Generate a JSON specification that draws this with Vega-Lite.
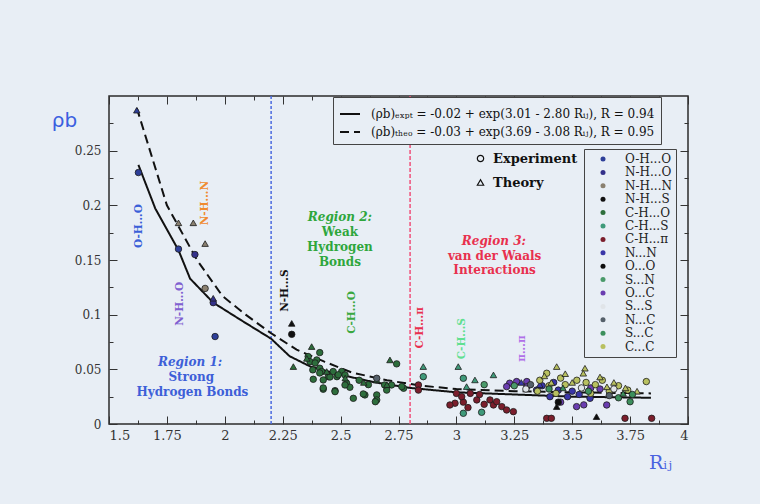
{
"$schema":"https://vega.github.io/schema/vega-lite/v6.json",
"width":579,"height":328,
"autosize":{"type":"none"},
"padding":{"left":109,"top":96,"right":72,"bottom":80},
"background":"#e8eef5",
"config":{"font":"DejaVu Serif","view":{"stroke":"#2b2b2b","strokeWidth":1.5},
 "axis":{"domain":false,"grid":false,"labelFont":"DejaVu Serif","labelColor":"#333","tickColor":"#333","labelFontSize":13,"tickWidth":1}},
"datasets":{
 "fits":[
  {"R":1.627,"rho":0.237,"fit":"(ρb)ₑₓₚₜ = -0.02 + exp(3.01 - 2.80 Rᵢⱼ), R = 0.94"},
  {"R":1.70,"rho":0.197,"fit":"(ρb)ₑₓₚₜ = -0.02 + exp(3.01 - 2.80 Rᵢⱼ), R = 0.94"},
  {"R":1.80,"rho":0.159,"fit":"(ρb)ₑₓₚₜ = -0.02 + exp(3.01 - 2.80 Rᵢⱼ), R = 0.94"},
  {"R":1.85,"rho":0.133,"fit":"(ρb)ₑₓₚₜ = -0.02 + exp(3.01 - 2.80 Rᵢⱼ), R = 0.94"},
  {"R":1.95,"rho":0.111,"fit":"(ρb)ₑₓₚₜ = -0.02 + exp(3.01 - 2.80 Rᵢⱼ), R = 0.94"},
  {"R":2.07,"rho":0.095,"fit":"(ρb)ₑₓₚₜ = -0.02 + exp(3.01 - 2.80 Rᵢⱼ), R = 0.94"},
  {"R":2.20,"rho":0.078,"fit":"(ρb)ₑₓₚₜ = -0.02 + exp(3.01 - 2.80 Rᵢⱼ), R = 0.94"},
  {"R":2.28,"rho":0.062,"fit":"(ρb)ₑₓₚₜ = -0.02 + exp(3.01 - 2.80 Rᵢⱼ), R = 0.94"},
  {"R":2.37,"rho":0.0525,"fit":"(ρb)ₑₓₚₜ = -0.02 + exp(3.01 - 2.80 Rᵢⱼ), R = 0.94"},
  {"R":2.50,"rho":0.045,"fit":"(ρb)ₑₓₚₜ = -0.02 + exp(3.01 - 2.80 Rᵢⱼ), R = 0.94"},
  {"R":2.65,"rho":0.038,"fit":"(ρb)ₑₓₚₜ = -0.02 + exp(3.01 - 2.80 Rᵢⱼ), R = 0.94"},
  {"R":2.80,"rho":0.033,"fit":"(ρb)ₑₓₚₜ = -0.02 + exp(3.01 - 2.80 Rᵢⱼ), R = 0.94"},
  {"R":3.00,"rho":0.029,"fit":"(ρb)ₑₓₚₜ = -0.02 + exp(3.01 - 2.80 Rᵢⱼ), R = 0.94"},
  {"R":3.25,"rho":0.027,"fit":"(ρb)ₑₓₚₜ = -0.02 + exp(3.01 - 2.80 Rᵢⱼ), R = 0.94"},
  {"R":3.50,"rho":0.025,"fit":"(ρb)ₑₓₚₜ = -0.02 + exp(3.01 - 2.80 Rᵢⱼ), R = 0.94"},
  {"R":3.84,"rho":0.024,"fit":"(ρb)ₑₓₚₜ = -0.02 + exp(3.01 - 2.80 Rᵢⱼ), R = 0.94"},
  {"R":1.62,"rho":0.289,"fit":"(ρb)ₜₕₑₒ = -0.03 + exp(3.69 - 3.08 Rᵢⱼ), R = 0.95"},
  {"R":1.75,"rho":0.200,"fit":"(ρb)ₜₕₑₒ = -0.03 + exp(3.69 - 3.08 Rᵢⱼ), R = 0.95"},
  {"R":1.88,"rho":0.150,"fit":"(ρb)ₜₕₑₒ = -0.03 + exp(3.69 - 3.08 Rᵢⱼ), R = 0.95"},
  {"R":1.99,"rho":0.117,"fit":"(ρb)ₜₕₑₒ = -0.03 + exp(3.69 - 3.08 Rᵢⱼ), R = 0.95"},
  {"R":2.09,"rho":0.100,"fit":"(ρb)ₜₕₑₒ = -0.03 + exp(3.69 - 3.08 Rᵢⱼ), R = 0.95"},
  {"R":2.20,"rho":0.083,"fit":"(ρb)ₜₕₑₒ = -0.03 + exp(3.69 - 3.08 Rᵢⱼ), R = 0.95"},
  {"R":2.31,"rho":0.068,"fit":"(ρb)ₜₕₑₒ = -0.03 + exp(3.69 - 3.08 Rᵢⱼ), R = 0.95"},
  {"R":2.43,"rho":0.057,"fit":"(ρb)ₜₕₑₒ = -0.03 + exp(3.69 - 3.08 Rᵢⱼ), R = 0.95"},
  {"R":2.55,"rho":0.047,"fit":"(ρb)ₜₕₑₒ = -0.03 + exp(3.69 - 3.08 Rᵢⱼ), R = 0.95"},
  {"R":2.70,"rho":0.040,"fit":"(ρb)ₜₕₑₒ = -0.03 + exp(3.69 - 3.08 Rᵢⱼ), R = 0.95"},
  {"R":2.85,"rho":0.035,"fit":"(ρb)ₜₕₑₒ = -0.03 + exp(3.69 - 3.08 Rᵢⱼ), R = 0.95"},
  {"R":3.00,"rho":0.032,"fit":"(ρb)ₜₕₑₒ = -0.03 + exp(3.69 - 3.08 Rᵢⱼ), R = 0.95"},
  {"R":3.25,"rho":0.030,"fit":"(ρb)ₜₕₑₒ = -0.03 + exp(3.69 - 3.08 Rᵢⱼ), R = 0.95"},
  {"R":3.50,"rho":0.029,"fit":"(ρb)ₜₕₑₒ = -0.03 + exp(3.69 - 3.08 Rᵢⱼ), R = 0.95"},
  {"R":3.84,"rho":0.028,"fit":"(ρb)ₜₕₑₒ = -0.03 + exp(3.69 - 3.08 Rᵢⱼ), R = 0.95"}
 ],
 "pts":[
  {"R":1.627,"rho":0.230,"type":"O-H...O","kind":"Experiment"},
  {"R":1.80,"rho":0.160,"type":"O-H...O","kind":"Experiment"},
  {"R":1.958,"rho":0.080,"type":"O-H...O","kind":"Experiment"},
  {"R":1.62,"rho":0.287,"type":"O-H...O","kind":"Theory"},
  {"R":1.871,"rho":0.155,"type":"N-H...O","kind":"Experiment"},
  {"R":1.95,"rho":0.111,"type":"N-H...O","kind":"Experiment"},
  {"R":1.95,"rho":0.115,"type":"N-H...O","kind":"Theory"},
  {"R":1.915,"rho":0.124,"type":"N-H...N","kind":"Experiment"},
  {"R":1.80,"rho":0.184,"type":"N-H...N","kind":"Theory"},
  {"R":1.864,"rho":0.184,"type":"N-H...N","kind":"Theory"},
  {"R":1.915,"rho":0.165,"type":"N-H...N","kind":"Theory"},
  {"R":2.289,"rho":0.082,"type":"N-H...S","kind":"Experiment"},
  {"R":2.289,"rho":0.092,"type":"N-H...S","kind":"Theory"},
  {"R":2.36,"rho":0.0617,"type":"C-H...O","kind":"Experiment"},
  {"R":2.41,"rho":0.0653,"type":"C-H...O","kind":"Experiment"},
  {"R":2.397,"rho":0.0586,"type":"C-H...O","kind":"Experiment"},
  {"R":2.368,"rho":0.057,"type":"C-H...O","kind":"Experiment"},
  {"R":2.39,"rho":0.0558,"type":"C-H...O","kind":"Experiment"},
  {"R":2.41,"rho":0.051,"type":"C-H...O","kind":"Experiment"},
  {"R":2.418,"rho":0.048,"type":"C-H...O","kind":"Experiment"},
  {"R":2.468,"rho":0.048,"type":"C-H...O","kind":"Experiment"},
  {"R":2.505,"rho":0.048,"type":"C-H...O","kind":"Experiment"},
  {"R":2.447,"rho":0.0433,"type":"C-H...O","kind":"Experiment"},
  {"R":2.484,"rho":0.0433,"type":"C-H...O","kind":"Experiment"},
  {"R":2.519,"rho":0.0449,"type":"C-H...O","kind":"Experiment"},
  {"R":2.382,"rho":0.0409,"type":"C-H...O","kind":"Experiment"},
  {"R":2.425,"rho":0.0403,"type":"C-H...O","kind":"Experiment"},
  {"R":2.526,"rho":0.0373,"type":"C-H...O","kind":"Experiment"},
  {"R":2.54,"rho":0.0336,"type":"C-H...O","kind":"Experiment"},
  {"R":2.425,"rho":0.0318,"type":"C-H...O","kind":"Experiment"},
  {"R":2.476,"rho":0.0305,"type":"C-H...O","kind":"Experiment"},
  {"R":2.555,"rho":0.0235,"type":"C-H...O","kind":"Experiment"},
  {"R":2.605,"rho":0.0266,"type":"C-H...O","kind":"Experiment"},
  {"R":2.656,"rho":0.0266,"type":"C-H...O","kind":"Experiment"},
  {"R":2.656,"rho":0.022,"type":"C-H...O","kind":"Experiment"},
  {"R":2.699,"rho":0.031,"type":"C-H...O","kind":"Experiment"},
  {"R":2.742,"rho":0.055,"type":"C-H...O","kind":"Experiment"},
  {"R":2.772,"rho":0.0327,"type":"C-H...O","kind":"Experiment"},
  {"R":2.69,"rho":0.0357,"type":"C-H...O","kind":"Experiment"},
  {"R":2.65,"rho":0.0204,"type":"C-H...O","kind":"Experiment"},
  {"R":2.598,"rho":0.0275,"type":"C-H...O","kind":"Experiment"},
  {"R":2.519,"rho":0.0357,"type":"C-H...O","kind":"Experiment"},
  {"R":2.72,"rho":0.0357,"type":"C-H...O","kind":"Experiment"},
  {"R":2.764,"rho":0.0342,"type":"C-H...O","kind":"Experiment"},
  {"R":2.38,"rho":0.0495,"type":"C-H...O","kind":"Experiment"},
  {"R":2.41,"rho":0.0467,"type":"C-H...O","kind":"Experiment"},
  {"R":2.425,"rho":0.033,"type":"C-H...O","kind":"Experiment"},
  {"R":2.476,"rho":0.0296,"type":"C-H...O","kind":"Experiment"},
  {"R":2.454,"rho":0.043,"type":"C-H...O","kind":"Experiment"},
  {"R":2.49,"rho":0.045,"type":"C-H...O","kind":"Experiment"},
  {"R":2.58,"rho":0.040,"type":"C-H...O","kind":"Experiment"},
  {"R":2.62,"rho":0.036,"type":"C-H...O","kind":"Experiment"},
  {"R":2.296,"rho":0.0525,"type":"C-H...O","kind":"Theory"},
  {"R":2.375,"rho":0.0708,"type":"C-H...O","kind":"Theory"},
  {"R":2.354,"rho":0.060,"type":"C-H...O","kind":"Theory"},
  {"R":2.656,"rho":0.0403,"type":"C-H...O","kind":"Theory"},
  {"R":2.713,"rho":0.0586,"type":"C-H...O","kind":"Theory"},
  {"R":2.44,"rho":0.048,"type":"C-H...O","kind":"Theory"},
  {"R":2.52,"rho":0.042,"type":"C-H...O","kind":"Theory"},
  {"R":2.60,"rho":0.038,"type":"C-H...O","kind":"Theory"},
  {"R":2.70,"rho":0.036,"type":"C-H...O","kind":"Theory"},
  {"R":2.656,"rho":0.0418,"type":"N...C","kind":"Experiment"},
  {"R":2.836,"rho":0.0357,"type":"C-H...π","kind":"Experiment"},
  {"R":2.836,"rho":0.031,"type":"C-H...π","kind":"Experiment"},
  {"R":2.994,"rho":0.019,"type":"C-H...π","kind":"Experiment"},
  {"R":3.03,"rho":0.020,"type":"C-H...π","kind":"Experiment"},
  {"R":3.0,"rho":0.028,"type":"C-H...π","kind":"Experiment"},
  {"R":3.06,"rho":0.028,"type":"C-H...π","kind":"Experiment"},
  {"R":3.088,"rho":0.022,"type":"C-H...π","kind":"Experiment"},
  {"R":3.145,"rho":0.022,"type":"C-H...π","kind":"Experiment"},
  {"R":3.16,"rho":0.0174,"type":"C-H...π","kind":"Experiment"},
  {"R":3.196,"rho":0.0159,"type":"C-H...π","kind":"Experiment"},
  {"R":3.217,"rho":0.0128,"type":"C-H...π","kind":"Experiment"},
  {"R":3.246,"rho":0.0113,"type":"C-H...π","kind":"Experiment"},
  {"R":3.174,"rho":0.0204,"type":"C-H...π","kind":"Experiment"},
  {"R":2.972,"rho":0.0174,"type":"C-H...π","kind":"Experiment"},
  {"R":3.023,"rho":0.025,"type":"C-H...π","kind":"Experiment"},
  {"R":3.12,"rho":0.018,"type":"C-H...π","kind":"Experiment"},
  {"R":3.10,"rho":0.027,"type":"C-H...π","kind":"Experiment"},
  {"R":3.39,"rho":0.0052,"type":"C-H...π","kind":"Experiment"},
  {"R":3.41,"rho":0.0052,"type":"C-H...π","kind":"Experiment"},
  {"R":3.728,"rho":0.0052,"type":"C-H...π","kind":"Experiment"},
  {"R":3.843,"rho":0.0052,"type":"C-H...π","kind":"Experiment"},
  {"R":3.05,"rho":0.015,"type":"C-H...π","kind":"Experiment"},
  {"R":3.03,"rho":0.0418,"type":"C-H...S","kind":"Experiment"},
  {"R":3.03,"rho":0.0098,"type":"C-H...S","kind":"Experiment"},
  {"R":3.109,"rho":0.0107,"type":"C-H...S","kind":"Experiment"},
  {"R":2.857,"rho":0.0433,"type":"C-H...S","kind":"Experiment"},
  {"R":3.008,"rho":0.0525,"type":"C-H...S","kind":"Theory"},
  {"R":3.08,"rho":0.0403,"type":"C-H...S","kind":"Theory"},
  {"R":3.16,"rho":0.0449,"type":"C-H...S","kind":"Theory"},
  {"R":3.044,"rho":0.0342,"type":"C-H...S","kind":"Theory"},
  {"R":2.857,"rho":0.0525,"type":"C-H...S","kind":"Theory"},
  {"R":3.23,"rho":0.0373,"type":"O...C","kind":"Experiment"},
  {"R":3.26,"rho":0.0388,"type":"O...C","kind":"Experiment"},
  {"R":3.304,"rho":0.0388,"type":"O...C","kind":"Experiment"},
  {"R":3.304,"rho":0.034,"type":"O...C","kind":"Experiment"},
  {"R":3.217,"rho":0.0342,"type":"O...C","kind":"Experiment"},
  {"R":3.45,"rho":0.020,"type":"O...C","kind":"Experiment"},
  {"R":3.55,"rho":0.0175,"type":"O...C","kind":"Experiment"},
  {"R":3.649,"rho":0.0174,"type":"O...C","kind":"Experiment"},
  {"R":3.519,"rho":0.0159,"type":"O...C","kind":"Experiment"},
  {"R":3.62,"rho":0.032,"type":"O...C","kind":"Experiment"},
  {"R":3.58,"rho":0.033,"type":"O...C","kind":"Experiment"},
  {"R":3.346,"rho":0.031,"type":"N...N","kind":"Experiment"},
  {"R":3.404,"rho":0.025,"type":"N...N","kind":"Experiment"},
  {"R":3.44,"rho":0.031,"type":"N...N","kind":"Experiment"},
  {"R":3.48,"rho":0.025,"type":"N...N","kind":"Experiment"},
  {"R":3.577,"rho":0.0235,"type":"N...N","kind":"Experiment"},
  {"R":3.50,"rho":0.030,"type":"N...N","kind":"Experiment"},
  {"R":3.37,"rho":0.035,"type":"N...N","kind":"Experiment"},
  {"R":3.42,"rho":0.038,"type":"N...N","kind":"Experiment"},
  {"R":3.53,"rho":0.027,"type":"N...N","kind":"Experiment"},
  {"R":3.28,"rho":0.038,"type":"N...N","kind":"Theory"},
  {"R":3.36,"rho":0.036,"type":"N...N","kind":"Theory"},
  {"R":3.39,"rho":0.0464,"type":"C...C","kind":"Experiment"},
  {"R":3.36,"rho":0.040,"type":"C...C","kind":"Experiment"},
  {"R":3.40,"rho":0.035,"type":"C...C","kind":"Experiment"},
  {"R":3.45,"rho":0.042,"type":"C...C","kind":"Experiment"},
  {"R":3.47,"rho":0.036,"type":"C...C","kind":"Experiment"},
  {"R":3.52,"rho":0.040,"type":"C...C","kind":"Experiment"},
  {"R":3.56,"rho":0.038,"type":"C...C","kind":"Experiment"},
  {"R":3.60,"rho":0.036,"type":"C...C","kind":"Experiment"},
  {"R":3.63,"rho":0.040,"type":"C...C","kind":"Experiment"},
  {"R":3.66,"rho":0.030,"type":"C...C","kind":"Experiment"},
  {"R":3.70,"rho":0.035,"type":"C...C","kind":"Experiment"},
  {"R":3.74,"rho":0.031,"type":"C...C","kind":"Experiment"},
  {"R":3.82,"rho":0.0388,"type":"C...C","kind":"Experiment"},
  {"R":3.35,"rho":0.030,"type":"C...C","kind":"Experiment"},
  {"R":3.43,"rho":0.028,"type":"C...C","kind":"Experiment"},
  {"R":3.58,"rho":0.028,"type":"C...C","kind":"Experiment"},
  {"R":3.433,"rho":0.0525,"type":"C...C","kind":"Theory"},
  {"R":3.555,"rho":0.051,"type":"C...C","kind":"Theory"},
  {"R":3.548,"rho":0.0464,"type":"C...C","kind":"Theory"},
  {"R":3.38,"rho":0.044,"type":"C...C","kind":"Theory"},
  {"R":3.47,"rho":0.046,"type":"C...C","kind":"Theory"},
  {"R":3.50,"rho":0.038,"type":"C...C","kind":"Theory"},
  {"R":3.62,"rho":0.043,"type":"C...C","kind":"Theory"},
  {"R":3.68,"rho":0.038,"type":"C...C","kind":"Theory"},
  {"R":3.73,"rho":0.033,"type":"C...C","kind":"Theory"},
  {"R":3.78,"rho":0.030,"type":"C...C","kind":"Theory"},
  {"R":3.41,"rho":0.038,"type":"C...C","kind":"Theory"},
  {"R":3.65,"rho":0.034,"type":"C...C","kind":"Theory"},
  {"R":3.75,"rho":0.0204,"type":"S...C","kind":"Experiment"},
  {"R":3.70,"rho":0.024,"type":"S...C","kind":"Experiment"},
  {"R":3.76,"rho":0.027,"type":"S...C","kind":"Experiment"},
  {"R":3.40,"rho":0.032,"type":"S...C","kind":"Experiment"},
  {"R":3.57,"rho":0.030,"type":"S...C","kind":"Experiment"},
  {"R":3.72,"rho":0.028,"type":"S...C","kind":"Theory"},
  {"R":3.46,"rho":0.033,"type":"S...C","kind":"Theory"},
  {"R":3.605,"rho":0.0067,"type":"O...O","kind":"Theory"},
  {"R":3.433,"rho":0.0159,"type":"O...O","kind":"Theory"},
  {"R":3.44,"rho":0.020,"type":"O...O","kind":"Experiment"},
  {"R":3.32,"rho":0.036,"type":"N...C","kind":"Experiment"},
  {"R":3.66,"rho":0.026,"type":"N...C","kind":"Experiment"},
  {"R":3.30,"rho":0.032,"type":"S...S","kind":"Experiment"},
  {"R":3.54,"rho":0.033,"type":"S...S","kind":"Experiment"},
  {"R":3.68,"rho":0.032,"type":"S...S","kind":"Experiment"},
  {"R":3.12,"rho":0.036,"type":"S...N","kind":"Experiment"},
  {"R":3.25,"rho":0.035,"type":"S...N","kind":"Experiment"}
 ],
 "titles":[
  {"t":"Region 1:","R":1.85,"rho":0.0568,"g":"r1"},
  {"t":"Region 2:","R":2.497,"rho":0.1896,"g":"r2"},
  {"t":"Region 3:","R":3.162,"rho":0.1676,"g":"r3"}
 ],
 "bodies":[
  {"t":"Strong","R":1.855,"rho":0.043,"g":"r1"},
  {"t":"Hydrogen Bonds","R":1.86,"rho":0.0293,"g":"r1"},
  {"t":"Weak","R":2.497,"rho":0.1758,"g":"r2"},
  {"t":"Hydrogen","R":2.497,"rho":0.1621,"g":"r2"},
  {"t":"Bonds","R":2.497,"rho":0.1484,"g":"r2"},
  {"t":"van der Waals","R":3.165,"rho":0.1538,"g":"r3"},
  {"t":"Interactions","R":3.165,"rho":0.141,"g":"r3"}
 ],
 "tags":[
  {"t":"O-H...O","R":1.63,"rho":0.181},
  {"t":"N-H...N","R":1.915,"rho":0.202},
  {"t":"N-H...O","R":1.807,"rho":0.110},
  {"t":"N-H...S","R":2.26,"rho":0.122},
  {"t":"C-H...O","R":2.548,"rho":0.102},
  {"t":"C-H...π","R":2.843,"rho":0.088},
  {"t":"C-H...S","R":3.023,"rho":0.078},
  {"t":"π...π","R":3.282,"rho":0.069}
 ]
},
"resolve":{"scale":{"color":"independent"},"axis":{"x":"independent","y":"independent"}},
"layer":[
 {"data":{"values":[{"R":2.2}]},"mark":{"type":"rule","color":"#4a6ae0","strokeWidth":1.5,"strokeDash":[3,2]},
  "encoding":{"x":{"field":"R","type":"quantitative","scale":{"domain":[1.5,4],"nice":false,"zero":false},"axis":null}}},
 {"data":{"values":[{"R":2.8}]},"mark":{"type":"rule","color":"#f0507a","strokeWidth":1.5,"strokeDash":[4,2]},
  "encoding":{"x":{"field":"R","type":"quantitative","scale":{"domain":[1.5,4],"nice":false,"zero":false},"axis":null}}},
 {"data":{"name":"fits"},"mark":{"type":"line","color":"#111","strokeWidth":2},
  "encoding":{
   "x":{"field":"R","type":"quantitative","scale":{"domain":[1.5,4],"nice":false,"zero":false},
    "axis":{"orient":"top","labels":false,"title":null,"values":[1.5,1.625,1.75,1.875,2,2.125,2.25,2.375,2.5,2.625,2.75,2.875,3,3.125,3.25,3.375,3.5,3.625,3.75,3.875,4],
     "tickSize":{"condition":{"test":"abs(datum.value*4-round(datum.value*4))<0.01","value":-8},"value":-4}}},
   "y":{"field":"rho","type":"quantitative","scale":{"domain":[0,0.3],"nice":false,"zero":false},
    "axis":{"orient":"right","labels":false,"title":null,"values":[0,0.025,0.05,0.075,0.1,0.125,0.15,0.175,0.2,0.225,0.25,0.275],
     "tickSize":{"condition":{"test":"abs(datum.value*20-round(datum.value*20))<0.01","value":-8},"value":-4}}},
   "strokeDash":{"field":"fit","type":"nominal","scale":{"range":[[1,0],[9,5]]},
    "legend":{"title":null,"orient":"none","legendX":224,"legendY":1,"symbolType":"stroke","symbolSize":400,"symbolStrokeWidth":2,"symbolStrokeColor":"#111","labelFont":"DejaVu Serif","labelFontSize":12,"labelColor":"#111","labelLimit":400,"labelOffset":10,"rowPadding":1,"padding":6,"strokeColor":"#444","fillColor":"#e8eef5"}}
  }},
 {"data":{"name":"pts"},"mark":{"type":"point","filled":true,"stroke":"#1c1c1c","strokeWidth":0.8,"opacity":1,"size":42},
  "encoding":{
   "x":{"field":"R","type":"quantitative","scale":{"domain":[1.5,4],"nice":false,"zero":false},
    "axis":{"orient":"bottom","title":"Rᵢⱼ","titleX":551,"titleY":38,"titleAlign":"center","titleBaseline":"middle","titleFont":"DejaVu Serif","titleFontSize":19,"titleFontWeight":"normal","titleColor":"#4a62e0",
     "values":[1.5,1.625,1.75,1.875,2,2.125,2.25,2.375,2.5,2.625,2.75,2.875,3,3.125,3.25,3.375,3.5,3.625,3.75,3.875,4],
     "labelExpr":"abs(datum.value*4-round(datum.value*4))<0.01 ? ('' + datum.value) : ''","labelPadding":13,
     "tickSize":{"condition":{"test":"abs(datum.value*4-round(datum.value*4))<0.01","value":-8},"value":-4}}},
   "y":{"field":"rho","type":"quantitative","scale":{"domain":[0,0.3],"nice":false,"zero":false},
    "axis":{"orient":"left","title":"ρb","titleAngle":0,"titleX":-45,"titleY":24,"titleAlign":"center","titleBaseline":"middle","titleFont":"DejaVu Sans","titleFontSize":20,"titleFontWeight":"normal","titleColor":"#3b5fe0",
     "values":[0,0.025,0.05,0.075,0.1,0.125,0.15,0.175,0.2,0.225,0.25,0.275],"labelFontSize":12,
     "labelExpr":"abs(datum.value*20-round(datum.value*20))<0.01 ? ('' + datum.value) : ''","labelPadding":16,
     "tickSize":{"condition":{"test":"abs(datum.value*20-round(datum.value*20))<0.01","value":-8},"value":-4}}},
   "color":{"field":"type","type":"nominal",
    "scale":{"domain":["O-H...O","N-H...O","N-H...N","N-H...S","C-H...O","C-H...S","C-H...π","N...N","O...O","S...N","O...C","S...S","N...C","S...C","C...C"],
     "range":["#2e3f99","#34318a","#8a8070","#111111","#2d6e3c","#3f9a7a","#7b1e2c","#3a36a8","#0d0d0d","#4a9a6a","#6a3db0","#e0e4e8","#55606a","#3c8f5c","#b8c060"]},
    "legend":{"title":null,"orient":"none","legendX":475,"legendY":53,"symbolType":"circle","symbolSize":25,"symbolStrokeWidth":0,"labelFont":"DejaVu Serif","labelFontSize":12,"labelColor":"#222","rowPadding":1.4,"padding":4,"symbolOffset":9,"labelOffset":16,"strokeColor":"#444","fillColor":"#e8eef5"}},
   "shape":{"field":"kind","type":"nominal","scale":{"domain":["Experiment","Theory"],"range":["circle","triangle-up"]},
    "legend":{"title":null,"orient":"none","legendX":365,"legendY":56,"symbolSize":40,"symbolFillColor":"transparent","symbolStrokeColor":"#111","symbolStrokeWidth":1.2,"labelFont":"DejaVu Serif","labelFontSize":13,"labelFontWeight":"bold","labelColor":"#111","rowPadding":10,"padding":0,"labelOffset":6}}
  }},
 {"data":{"name":"titles"},"mark":{"type":"text","font":"DejaVu Serif","fontSize":12,"fontWeight":"bold","fontStyle":"italic","align":"center","baseline":"middle"},
  "encoding":{"x":{"field":"R","type":"quantitative","scale":{"domain":[1.5,4],"nice":false,"zero":false},"axis":null},
   "y":{"field":"rho","type":"quantitative","scale":{"domain":[0,0.3],"nice":false,"zero":false},"axis":null},
   "text":{"field":"t"},
   "color":{"field":"g","type":"nominal","scale":{"domain":["r1","r2","r3"],"range":["#3d5fd8","#2ea63c","#e8304e"]},"legend":null}}},
 {"data":{"name":"bodies"},"mark":{"type":"text","font":"DejaVu Serif","fontSize":12,"fontWeight":"bold","align":"center","baseline":"middle"},
  "encoding":{"x":{"field":"R","type":"quantitative","scale":{"domain":[1.5,4],"nice":false,"zero":false},"axis":null},
   "y":{"field":"rho","type":"quantitative","scale":{"domain":[0,0.3],"nice":false,"zero":false},"axis":null},
   "text":{"field":"t"},
   "color":{"field":"g","type":"nominal","scale":{"domain":["r1","r2","r3"],"range":["#3d5fd8","#2ea63c","#e8304e"]},"legend":null}}},
 {"data":{"name":"tags"},"mark":{"type":"text","font":"DejaVu Serif","fontSize":10.5,"fontWeight":"bold","align":"center","baseline":"middle","angle":270},
  "encoding":{"x":{"field":"R","type":"quantitative","scale":{"domain":[1.5,4],"nice":false,"zero":false},"axis":null},
   "y":{"field":"rho","type":"quantitative","scale":{"domain":[0,0.3],"nice":false,"zero":false},"axis":null},
   "text":{"field":"t"},
   "color":{"field":"t","type":"nominal","scale":{"domain":["O-H...O","N-H...N","N-H...O","N-H...S","C-H...O","C-H...π","C-H...S","π...π"],"range":["#3a5fd8","#f08a30","#8060d0","#111111","#3aa840","#e8304e","#60e090","#b070e8"]},"legend":null}}}
]
}
